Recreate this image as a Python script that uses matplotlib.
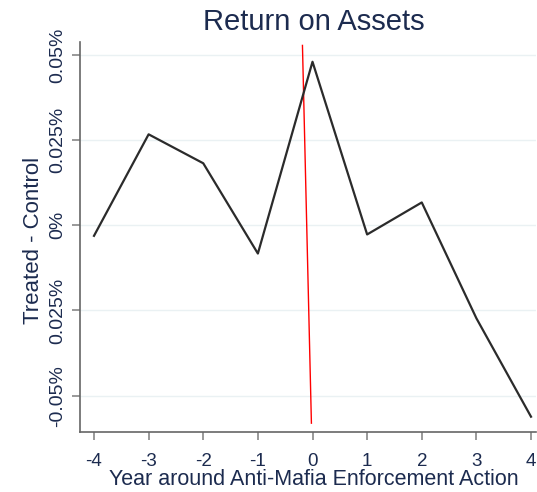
import matplotlib
matplotlib.use("Agg")
import matplotlib.pyplot as plt

years = [-4, -3, -2, -1, 0, 1, 2, 3, 4]
diff = [-0.0031, 0.0267, 0.0182, -0.0083, 0.0480, -0.0027, 0.0067, -0.0273, -0.0562]
yticks = [-0.05, -0.025, 0.0, 0.025, 0.05]
ytick_labels = ["-0.05%", "0.025%", "0%", "0.025%", "0.05%"]
event_x = [-0.184, -0.02]
event_y = [0.0528, -0.0581]

plt.rcParams['font.family'] = ['Liberation Sans', 'DejaVu Sans']
txt = '#1c2b4f'

fig = plt.figure(figsize=(5.37, 4.92), dpi=100)
ax = fig.add_axes([0.149, 0.1226, 0.849, 0.7920])

for y in yticks:
    ax.axhline(y, color='#eaf1f3', lw=1.0, zorder=0)

ax.plot(years, diff, color='#2b2b2b', lw=1.6, zorder=3)
ax.plot(event_x, event_y, color='#ff0000', lw=1.0, zorder=2)

ax.set_xlim(-4.256, 4.09)
ax.set_ylim(-0.0606, 0.0538)
ax.set_xticks(years)
ax.set_xticklabels([str(y) for y in years], fontsize=13.5, color=txt)
ax.set_yticks(yticks)
ax.set_yticklabels(ytick_labels, fontsize=14, color=txt, rotation=90, va='center')

ax.tick_params(axis='both', direction='out', length=6, width=1.2, color='#888888')
ax.tick_params(axis='y', pad=4)
ax.tick_params(axis='x', pad=9)
for s in ['top', 'right']:
    ax.spines[s].set_visible(False)
for s in ['left', 'bottom']:
    ax.spines[s].set_color('#666666')
    ax.spines[s].set_linewidth(1.2)

ax.set_xlabel('Year around Anti-Mafia Enforcement Action', fontsize=15.5, color=txt, va='center')
ax.xaxis.set_label_coords(0.5125, -0.123)
ax.set_ylabel('Treated - Control', fontsize=16, color=txt, va='center')
ax.yaxis.set_label_coords(-0.103, 0.492)
fig.text(0.584, 1 - 22.5 / 492, 'Return on Assets', fontsize=21, color=txt, ha='center', va='center')

fig.savefig('out.png', dpi=100, facecolor='white')
